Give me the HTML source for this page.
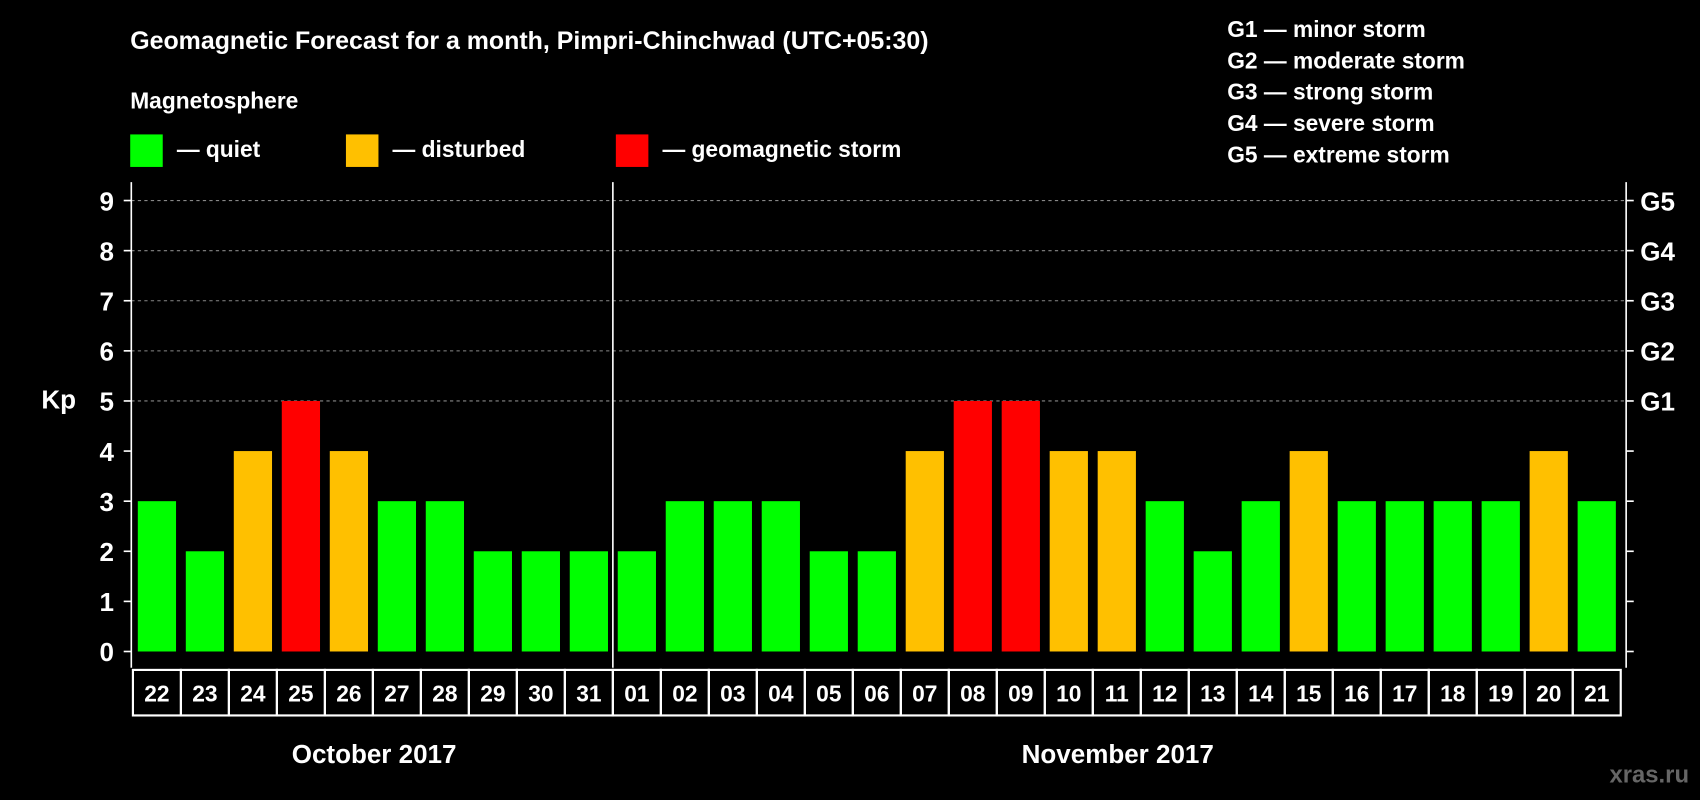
<!DOCTYPE html>
<html><head><meta charset="utf-8"><style>
html,body{margin:0;padding:0;background:#000;width:1700px;height:800px;overflow:hidden}
svg{display:block;font-family:"Liberation Sans",Arial,sans-serif;font-weight:bold}
</style></head><body>
<svg id="chart" width="1700" height="800" viewBox="0 0 1568 738" xmlns="http://www.w3.org/2000/svg">
<rect width="1568" height="738" fill="#000"/>
<text x="120" y="45" fill="#fff" font-size="23">Geomagnetic Forecast for a month, Pimpri-Chinchwad (UTC+05:30)</text>
<text x="120" y="100" fill="#fff" font-size="21">Magnetosphere</text>
<g><rect x="120" y="124" width="30" height="30" fill="#00ff00"/><text x="163" y="145" fill="#fff" font-size="21">— quiet</text></g>
<g><rect x="319" y="124" width="30" height="30" fill="#ffc000"/><text x="362" y="145" fill="#fff" font-size="21">— disturbed</text></g>
<g><rect x="568" y="124" width="30" height="30" fill="#ff0000"/><text x="611" y="145" fill="#fff" font-size="21">— geomagnetic storm</text></g>
<g fill="#fff" font-size="21">
<text x="1132" y="34">G1 — minor storm</text>
<text x="1132" y="63">G2 — moderate storm</text>
<text x="1132" y="92">G3 — strong storm</text>
<text x="1132" y="121">G4 — severe storm</text>
<text x="1132" y="150">G5 — extreme storm</text>
</g>
<text x="38" y="377" fill="#fff" font-size="24">Kp</text>
<g id="plot"></g>
<text x="345" y="704" fill="#fff" font-size="24" text-anchor="middle">October 2017</text>
<text x="1031" y="704" fill="#fff" font-size="24" text-anchor="middle">November 2017</text>
<text x="1558" y="722" fill="#666" font-size="22" text-anchor="end">xras.ru</text>
</svg>
<script>
const days = ["22","23","24","25","26","27","28","29","30","31","01","02","03","04","05","06","07","08","09","10","11","12","13","14","15","16","17","18","19","20","21"];
const kpValues = [3,2,4,5,4,3,3,2,2,2,2,3,3,3,2,2,4,5,5,4,4,3,2,3,4,3,3,3,3,4,3];
const yTicks = [0,1,2,3,4,5,6,7,8,9];
const gLabels = ["","","","","","G1","G2","G3","G4","G5"];
const monthBreakIndex = 10;

const NS="http://www.w3.org/2000/svg";
const plot=document.getElementById('plot');
const X0=122.5,X1=1495,Y0=601,Y9=185,TOP=168,BOT=616;
const slot=(X1-X0)/days.length;
const y=v=>Y0-(Y0-Y9)*v/9;
const x=i=>X0+i*slot;
function mk(tag,a){const e=document.createElementNS(NS,tag);for(const k in a)e.setAttribute(k,a[k]);plot.appendChild(e);return e;}
function color(v){return v>=5?"#ff0000":v>=4?"#ffc000":"#00ff00";}

yTicks.forEach(t=>{
  if(t>=5){const g=mk('line',{x1:121,x2:1500,y1:y(t),y2:y(t),stroke:"#888","stroke-dasharray":"3,3","stroke-width":1});
  
  }
  const tl=mk('line',{x1:114,x2:121,y1:y(t),y2:y(t),stroke:"#fff","stroke-width":1.5});
  
  
  const tr=mk('line',{x1:1500,x2:1507,y1:y(t),y2:y(t),stroke:"#fff","stroke-width":1.5});
  
  
  const lb=mk('text',{x:105,y:y(t)+9,fill:"#fff","font-size":24,"text-anchor":"end"});
  lb.textContent=t;
  
  
  if(gLabels[t]){const gl=mk('text',{x:1513,y:y(t)+9,fill:"#fff","font-size":24});
  gl.textContent=gLabels[t];
  
  }
});
kpValues.forEach((v,i)=>{
  const r=mk('rect',{x:x(i)+4.5,y:y(v),width:slot-9,height:Y0-y(v),fill:color(v)});
  
  
  const b=mk('rect',{x:x(i),y:618,width:slot,height:42,fill:"none",stroke:"#fff","stroke-width":2});
  
  
  const t=mk('text',{x:x(i)+slot/2,y:647,fill:"#fff","font-size":21,"text-anchor":"middle"});
  t.textContent=days[i];
  
  
});
[[121,121],[1500,1500]].forEach(([a])=>{const l=mk('line',{x1:a,x2:a,y1:TOP,y2:BOT,stroke:"#fff","stroke-width":1.5});

});
const sep=mk('line',{x1:x(monthBreakIndex),x2:x(monthBreakIndex),y1:TOP,y2:BOT,stroke:"#fff","stroke-width":1.5});


</script>
</body></html>
